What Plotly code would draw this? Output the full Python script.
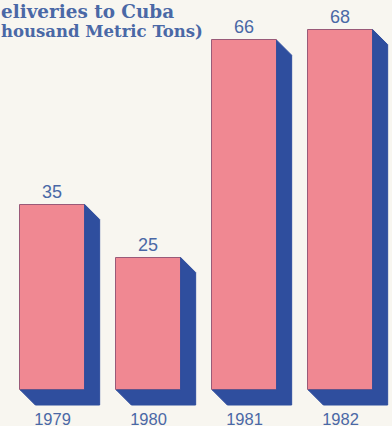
import plotly.graph_objects as go

years = ["1979", "1980", "1981", "1982"]
values = [35, 25, 66, 68]
title_lines = ["eliveries to Cuba", "housand Metric Tons)"]

PX_PER_X = 96.0      # pixels per category unit
PX_PER_Y = 5.3       # pixels per value unit
BAR_W = 0.67
DX = 15 / PX_PER_X   # depth offset in data units
DY = 15 / PX_PER_Y

xs = list(range(len(years)))

# shadow / depth polygons built from the data values
sx, sy = [], []
for i, v in zip(xs, values):
    x0, x1 = i - BAR_W / 2, i + BAR_W / 2
    sx += [x1, x1 + DX, x1 + DX, x0 + DX, x0, x1, x1, None]
    sy += [v, v - DY, -DY, -DY, 0, 0, v, None]

fig = go.Figure()
fig.add_trace(go.Scatter(x=sx, y=sy, mode="lines", fill="toself",
                         fillcolor="#2f4e9e", line=dict(color="#2f4e9e", width=1),
                         hoverinfo="skip", showlegend=False))
fig.add_trace(go.Bar(x=xs, y=values, width=BAR_W,
                     marker=dict(color="#f08892", line=dict(color="#9a5a78", width=1)),
                     text=[str(v) for v in values], textposition="outside",
                     textfont=dict(family="Liberation Sans, Arial", size=18, color="#4a68a6"),
                     cliponaxis=False, showlegend=False))

H, W = 426, 392
bottom_margin = 20
plot_h = H - bottom_margin
baseline_px = 390
fig.update_layout(
    width=W, height=H,
    margin=dict(l=0, r=0, t=0, b=bottom_margin),
    paper_bgcolor="#f8f6f0", plot_bgcolor="#f8f6f0",
    xaxis=dict(range=[-52.5 / PX_PER_X, (W - 52.5) / PX_PER_X],
               tickmode="array", tickvals=xs, ticktext=years,
               showgrid=False, zeroline=False, showline=False, ticks="",
               ticklabelstandoff=1, automargin=False,
               tickfont=dict(family="Liberation Sans, Arial", size=16.5, color="#4a68a6")),
    yaxis=dict(range=[-(plot_h - baseline_px) / PX_PER_Y, baseline_px / PX_PER_Y],
               visible=False, showgrid=False, zeroline=False),
    bargap=0,
    annotations=[
        dict(text="<b>%s</b>" % title_lines[0], xref="paper", yref="paper",
             x=0, y=1, xanchor="left", yanchor="top", showarrow=False,
             borderpad=0,
             font=dict(family="DejaVu Serif", size=18.4, color="#4a68a6")),
        dict(text="<b>%s</b>" % title_lines[1], xref="paper", yref="paper",
             x=0, y=1 - 22.5 / H, xanchor="left", yanchor="top", showarrow=False,
             borderpad=0,
             font=dict(family="DejaVu Serif", size=16.5, color="#4a68a6")),
    ],
)

fig.write_html("out.html")
